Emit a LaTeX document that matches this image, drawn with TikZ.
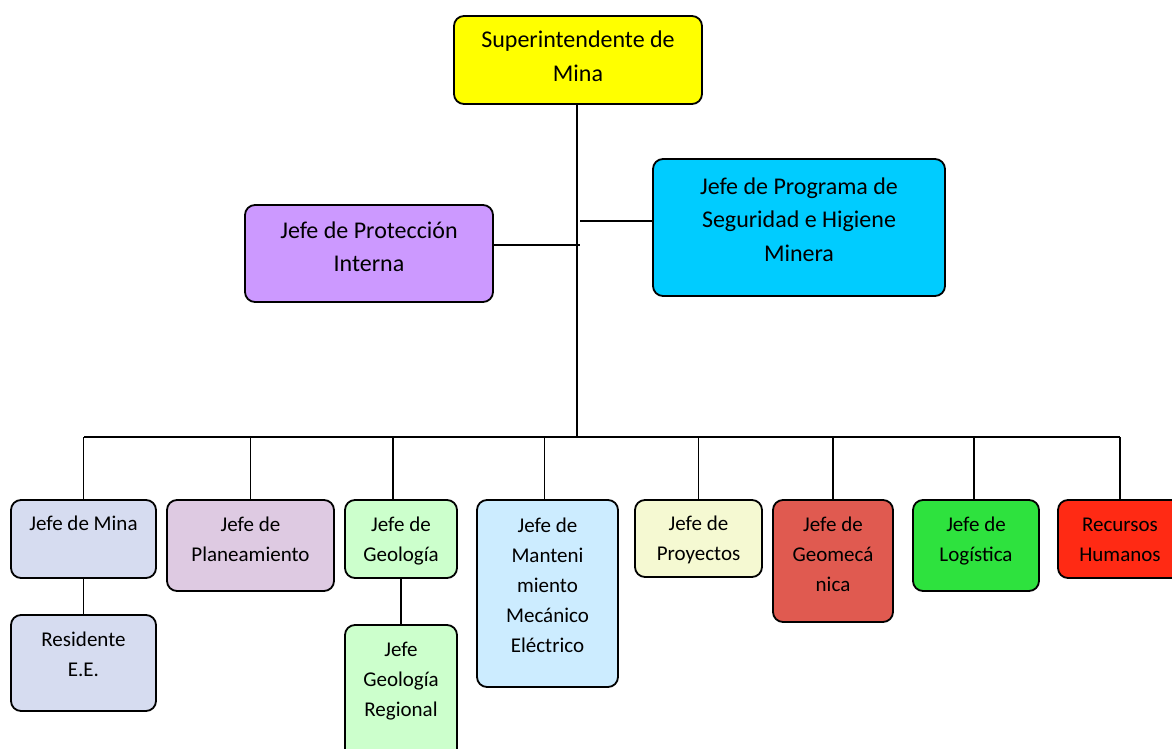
\documentclass[tikz,border=0pt]{standalone}
\usepackage{fontspec}
\setmainfont{Carlito}
\definecolor{cSuper}{HTML}{FFFF00}
\definecolor{cProt}{HTML}{CC99FF}
\definecolor{cProg}{HTML}{00CCFF}
\definecolor{cMina}{HTML}{D6DCF0}
\definecolor{cPlan}{HTML}{DECAE2}
\definecolor{cGeo}{HTML}{CCFFCC}
\definecolor{cMant}{HTML}{CCECFF}
\definecolor{cProy}{HTML}{F5F9D2}
\definecolor{cGeom}{HTML}{E05A50}
\definecolor{cLog}{HTML}{2EE23E}
\definecolor{cRRHH}{HTML}{FF2A14}
\newcommand\bt[4]{\parbox[c][#2][t]{#1}{\centering\rule{0pt}{#3}#4}}
\tikzset{
  orgbox/.style={draw=black, line width=1.8pt, rounded corners=10pt, inner sep=0pt, outer sep=0pt, anchor=north west, rectangle},
  topfont/.style={font=\fontsize{24}{33.5}\selectfont},
  botfont/.style={font=\fontsize{21}{30}\selectfont},
  link/.style={draw=black, line width=1.4pt}
}
\begin{document}
\begin{tikzpicture}[x=1pt,y=-1pt]
\useasboundingbox (0,0) rectangle (1172,749);
\clip (0,0) rectangle (1172,749);
% top boxes
\node[orgbox, topfont, fill=cSuper] (super) at (454,16) {\bt{248pt}{88pt}{32pt}{Superintendente de\\Mina}};
\node[orgbox, topfont, fill=cProt] (prot) at (245,205) {\bt{248pt}{97pt}{33pt}{Jefe de Protección\\Interna}};
\node[orgbox, topfont, fill=cProg] (prog) at (653,159) {\bt{292pt}{137pt}{35pt}{Jefe de Programa de\\Seguridad e Higiene\\Minera}};
% bottom boxes
\node[orgbox, botfont, fill=cMina] (mina) at (11,500) {\bt{145pt}{78pt}{30pt}{Jefe de Mina}};
\node[orgbox, botfont, fill=cMina] (resid) at (11,615) {\bt{145pt}{96pt}{31pt}{Residente\\E.E.}};
\node[orgbox, botfont, fill=cPlan] (plan) at (167,500) {\bt{167pt}{91pt}{31pt}{Jefe de\\Planeamiento}};
\node[orgbox, botfont, fill=cGeo] (geo) at (345,500) {\bt{112pt}{78pt}{31pt}{Jefe de\\Geología}};
\node[orgbox, botfont, fill=cGeo] (geor) at (345,625) {\bt{112pt}{140pt}{31pt}{Jefe\\Geología\\Regional}};
\node[orgbox, botfont, fill=cMant] (mant) at (477,500) {\bt{141pt}{187pt}{32pt}{Jefe de\\Manteni\\miento\\Mecánico\\Eléctrico}};
\node[orgbox, botfont, fill=cProy] (proy) at (635,500) {\bt{127pt}{77pt}{30pt}{Jefe de\\Proyectos}};
\node[orgbox, botfont, fill=cGeom] (geom) at (773,500) {\bt{120pt}{122pt}{31pt}{Jefe de\\Geomecá\\nica}};
\node[orgbox, botfont, fill=cLog] (log) at (913,500) {\bt{126pt}{91pt}{31pt}{Jefe de\\Logística}};
\node[orgbox, botfont, fill=cRRHH] (rrhh) at (1058,500) {\bt{124pt}{78pt}{31pt}{Recursos\\Humanos}};
% junctions
\coordinate (trunk) at (577,437);
\coordinate (pj) at (580,245);
\coordinate (qj) at (580,221);
\coordinate (busL) at (84,437);
\coordinate (busR) at (1120,437);
% connectors
\draw[link] (super.south -| trunk) -- (trunk);
\draw[link] (prot.east |- pj) -- (pj);
\draw[link] (qj) -- (prog.west |- qj);
\draw[link] (busL) -- (busR);
\draw[link] (mina.north) -- (mina.north |- busL);
\draw[link] (plan.north) -- (plan.north |- busL);
\draw[link] ([xshift=-8pt]geo.north) -- ([xshift=-8pt]geo.north |- busL);
\draw[link] ([xshift=-3pt]mant.north) -- ([xshift=-3pt]mant.north |- busL);
\draw[link] (proy.north) -- (proy.north |- busL);
\draw[link] (geom.north) -- (geom.north |- busL);
\draw[link] ([xshift=-2pt]log.north) -- ([xshift=-2pt]log.north |- busL);
\draw[link] (rrhh.north) -- (rrhh.north |- busL);
\draw[link] (mina.south) -- (resid.north);
\draw[link] (geo.south) -- (geor.north);
\end{tikzpicture}
\end{document}
